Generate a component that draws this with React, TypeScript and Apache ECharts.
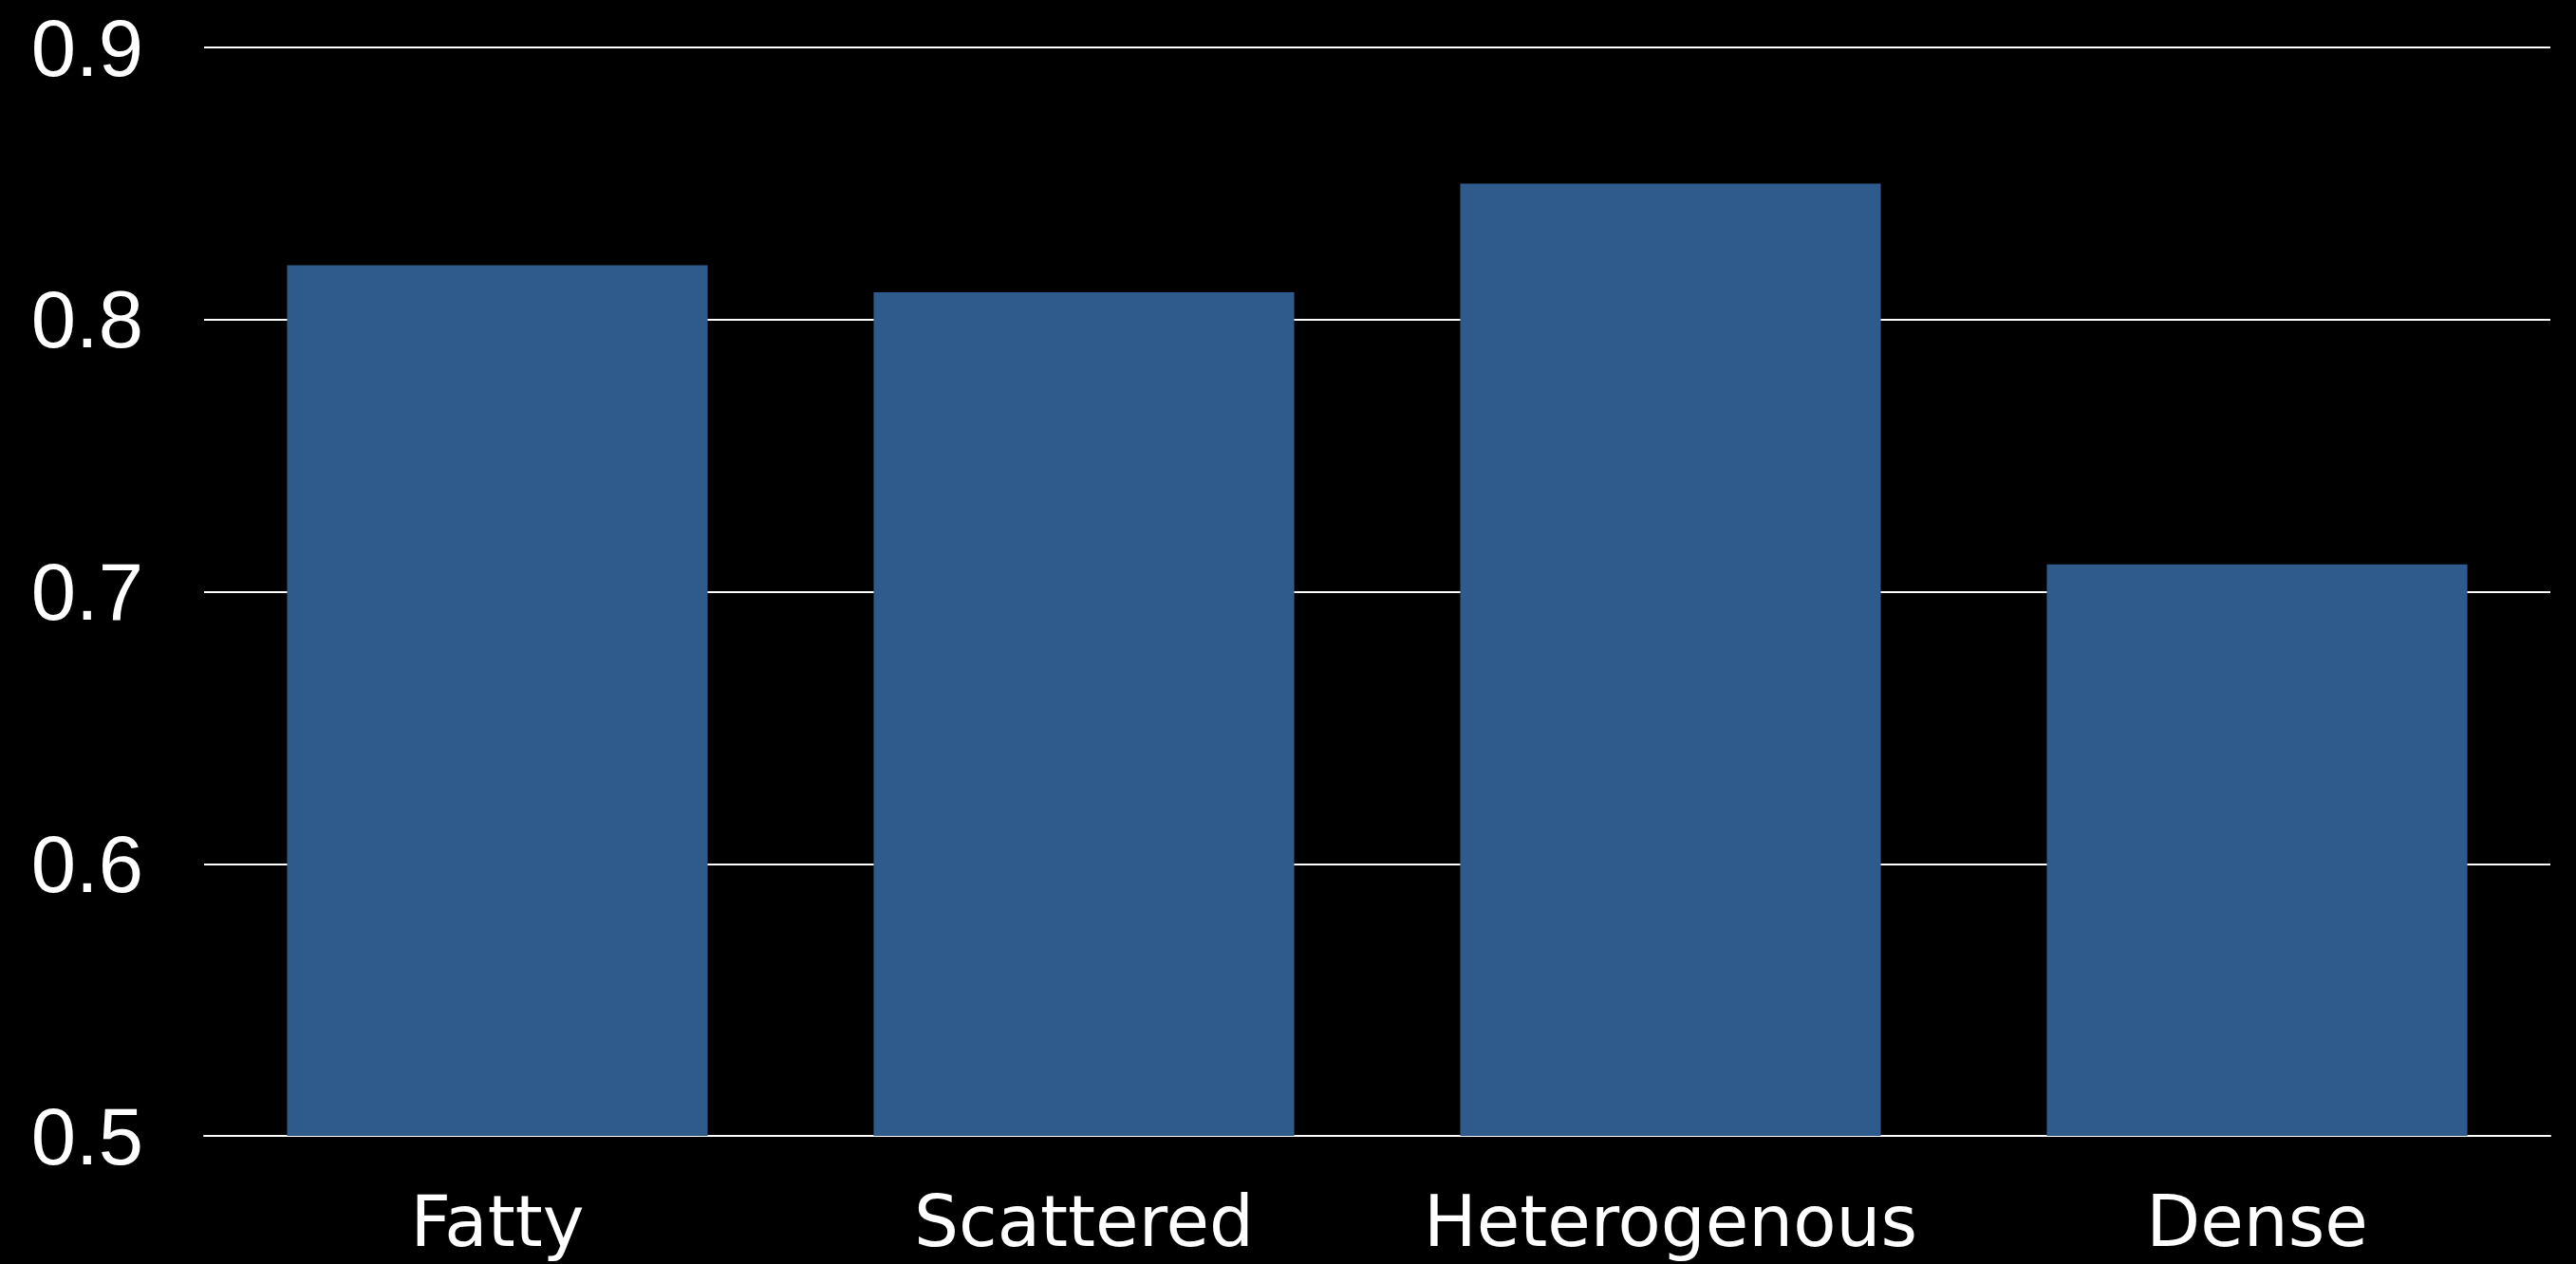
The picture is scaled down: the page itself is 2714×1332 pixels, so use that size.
import React, { useEffect, useRef } from "react";
import * as echarts from "echarts";

const categories = ["Fatty", "Scattered", "Heterogenous", "Dense"];
const values = [0.82, 0.81, 0.85, 0.71];
const yMin = 0.5;
const yMax = 0.9;
const yInterval = 0.1;

export default function App() {
  const ref = useRef<HTMLDivElement>(null);
  useEffect(() => {
    document.body.style.margin = "0";
    document.body.style.background = "#000";
    const chart = echarts.init(ref.current!, null, { renderer: "svg" });
    chart.setOption({
      animation: false,
      backgroundColor: "#000000",
      grid: { left: 215, right: 27, top: 50, bottom: 135, containLabel: false },
      xAxis: {
        type: "category",
        data: categories,
        axisLine: { show: true, lineStyle: { color: "#ffffff", width: 2 } },
        axisTick: { show: false },
        axisLabel: {
          color: "#ffffff",
          fontFamily: "DejaVu Sans",
          fontSize: 74,
          lineHeight: 74,
          margin: 53,
          interval: 0,
        },
        splitLine: { show: false },
      },
      yAxis: {
        type: "value",
        min: yMin,
        max: yMax,
        interval: yInterval,
        axisLine: { show: false },
        axisTick: { show: false },
        axisLabel: {
          color: "#ffffff",
          fontFamily: "Liberation Sans",
          fontSize: 85,
          margin: 64,
          formatter: (v: number) => v.toFixed(1),
        },
        splitLine: { show: true, lineStyle: { color: "#ffffff", width: 2 } },
      },
      series: [
        {
          type: "bar",
          data: values,
          barCategoryGap: "28.3%",
          itemStyle: { color: "#2F5A8C" },
          z: 3,
        },
      ],
    });
    return () => chart.dispose();
  }, []);
  return (
    <div
      ref={ref}
      style={{ position: "fixed", left: 0, top: 0, width: 2714, height: 1332 }}
    />
  );
}
